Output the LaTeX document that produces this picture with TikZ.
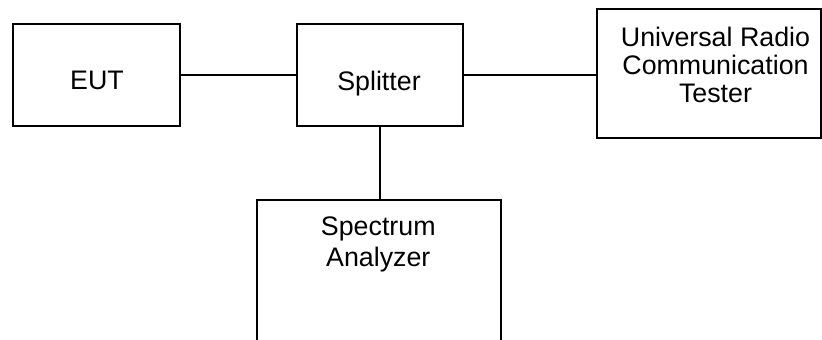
\documentclass[tikz,border=0pt]{standalone}
\usepackage{fontspec}
\setmainfont{Liberation Sans}
\begin{document}
\begin{tikzpicture}[x=1pt,y=-1pt,
  box/.style={draw=black,line width=1.9pt,rectangle,inner sep=0pt,outer sep=0pt},
  lbl/.style={inner sep=0pt,outer sep=0pt,align=center,font=\fontsize{26.8}{28.3}\selectfont},
  wire/.style={draw=black,line width=1.9pt}]
\useasboundingbox (0,0) rectangle (822,340);
\clip (0,0) rectangle (822,340);
\node[box,minimum width=167.3pt,minimum height=101.7pt] (eut) at (96.35,74.85) {};
\node[box,minimum width=166.3pt,minimum height=101.7pt] (spl) at (379.85,74.85) {};
\node[box,minimum width=223.7pt,minimum height=128.7pt] (urct) at (709.15,73.65) {};
\node[box,minimum width=243.4pt,minimum height=160pt] (sa) at (379,280) {};
\node[lbl,anchor=base] (eutt) at (97,89.5) {EUT};
\node[lbl,anchor=base] (splt) at (379,90) {Splitter};
\node[lbl,anchor=north] (urctt) at (715.5,26.7) {Universal Radio\\Communication\\Tester};
\node[lbl,anchor=north,font=\fontsize{26.8}{31}\selectfont] (sat) at (378.3,216.5) {Spectrum\\Analyzer};
\draw[wire] (eut.east) -- (spl.west);
\draw[wire] (spl.east) -- (spl.east -| urct.west);
\draw[wire] (spl.south) -- (spl.south |- sa.north);
\end{tikzpicture}
\end{document}
